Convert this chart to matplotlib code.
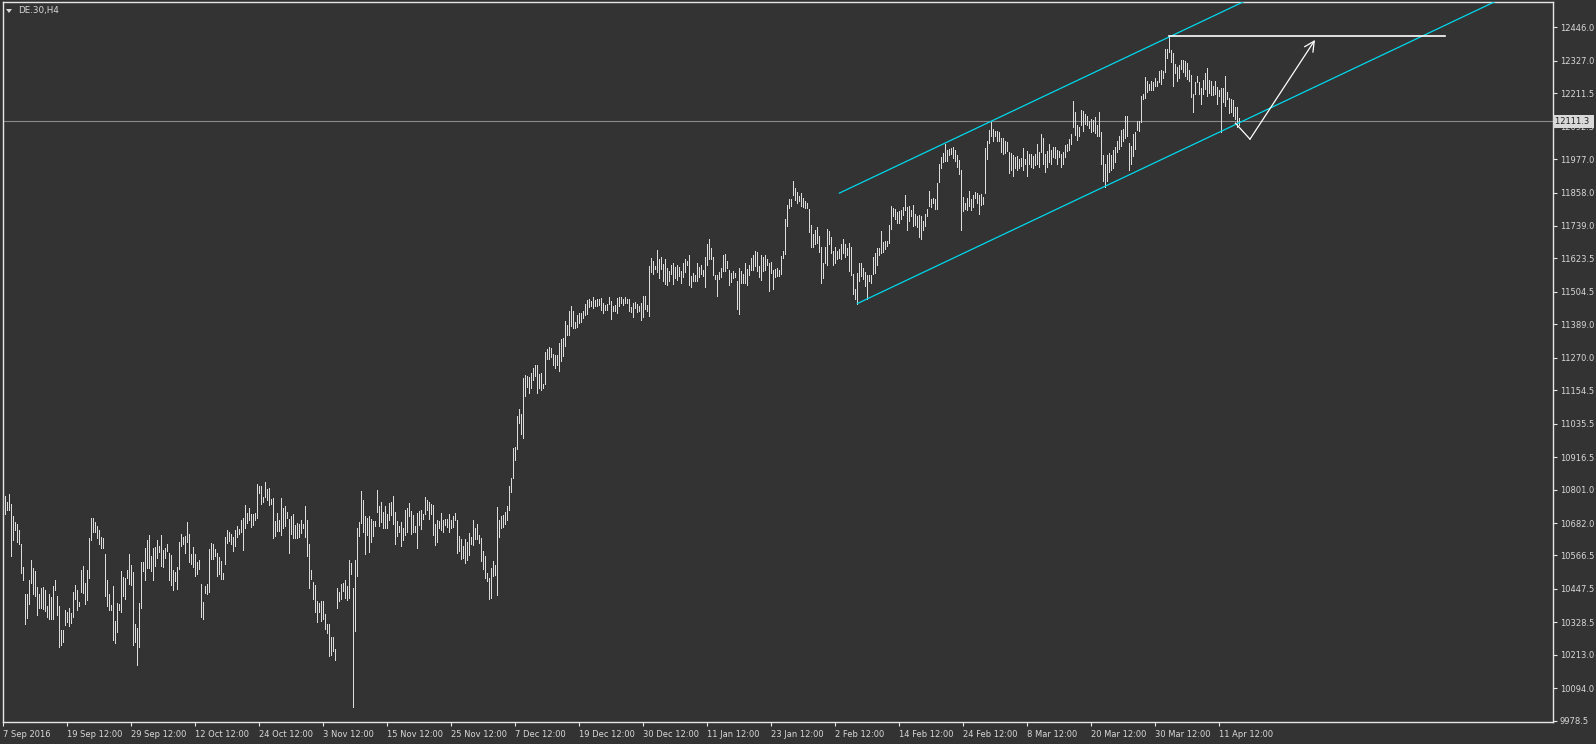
import numpy as np
import matplotlib
matplotlib.use("Agg")
import matplotlib.pyplot as plt
from matplotlib.transforms import blended_transform_factory

# DE.30 H4 bars, high / low per bar (bar 0 = 7 Sep 2016)
highs = [
    10775, 10779, 10756, 10784, 10748, 10706, 10687, 10677, 10656, 10608,
    10527, 10428, 10430, 10480, 10549, 10523, 10513, 10454, 10428, 10449,
    10456, 10442, 10387, 10428, 10418, 10459, 10480, 10423, 10387, 10302,
    10302, 10373, 10364, 10380, 10361, 10435, 10461, 10444, 10401, 10516,
    10530, 10470, 10516, 10630, 10701, 10701, 10684, 10672, 10658, 10632,
    10627, 10573, 10478, 10430, 10392, 10459, 10333, 10399, 10394, 10511,
    10489, 10485, 10516, 10573, 10532, 10508, 10323, 10309, 10397, 10544,
    10544, 10594, 10622, 10639, 10565, 10594, 10596, 10620, 10601, 10639,
    10587, 10594, 10608, 10575, 10568, 10516, 10508, 10525, 10615, 10644,
    10632, 10637, 10687, 10644, 10573, 10596, 10573, 10544, 10551, 10466,
    10401, 10459, 10466, 10589, 10611, 10606, 10589, 10577, 10561, 10546,
    10504, 10632, 10656, 10651, 10642, 10634, 10658, 10672, 10660, 10691,
    10701, 10746, 10718, 10734, 10715, 10715, 10718, 10822, 10815, 10813,
    10775, 10829, 10803, 10808, 10767, 10770, 10689, 10718, 10694, 10772,
    10734, 10744, 10722, 10696, 10708, 10715, 10675, 10682, 10677, 10691,
    10680, 10741, 10694, 10608, 10516, 10473, 10463, 10406, 10399, 10406,
    10404, 10359, 10323, 10323, 10278, 10276, 10235, 10451, 10437, 10466,
    10470, 10480, 10459, 10551, 10539, 10449, 10551, 10665, 10684, 10796,
    10763, 10708, 10701, 10706, 10696, 10689, 10689, 10801, 10744, 10756,
    10722, 10744, 10713, 10753, 10758, 10779, 10720, 10689, 10670, 10684,
    10665, 10729, 10734, 10753, 10725, 10710, 10672, 10717, 10725, 10729,
    10713, 10774, 10763, 10758, 10751, 10746, 10679, 10691, 10689, 10717,
    10694, 10698, 10696, 10715, 10694, 10706, 10717, 10694, 10637, 10625,
    10601, 10625, 10615, 10646, 10634, 10694, 10665, 10679, 10641, 10630,
    10582, 10565, 10504, 10485, 10523, 10546, 10532, 10739, 10694, 10708,
    10710, 10722, 10744, 10815, 10843, 10950, 10953, 11062, 11088, 11071,
    11197, 11209, 11205, 11200, 11216, 11235, 11243, 11243, 11212, 11216,
    11178, 11292, 11302, 11309, 11304, 11283, 11281, 11281, 11323, 11338,
    11342, 11402, 11385, 11437, 11456, 11435, 11399, 11423, 11428, 11430,
    11435, 11461, 11475, 11478, 11471, 11485, 11475, 11478, 11478, 11483,
    11466, 11459, 11463, 11487, 11471, 11454, 11459, 11483, 11485, 11485,
    11480, 11485, 11480, 11478, 11449, 11466, 11468, 11461, 11454, 11464,
    11490, 11490, 11459, 11597, 11625, 11613, 11597, 11654, 11620, 11628,
    11604, 11620, 11590, 11580, 11599, 11606, 11592, 11599, 11592, 11580,
    11609, 11620, 11616, 11635, 11561, 11573, 11563, 11606, 11592, 11599,
    11582, 11628, 11675, 11694, 11661, 11628, 11563, 11563, 11575, 11590,
    11635, 11639, 11613, 11582, 11573, 11580, 11571, 11542, 11590, 11580,
    11568, 11606, 11585, 11601, 11625, 11635, 11649, 11647, 11597, 11635,
    11630, 11637, 11623, 11606, 11611, 11582, 11587, 11590, 11582, 11632,
    11649, 11763, 11813, 11834, 11834, 11898, 11875, 11860, 11846, 11858,
    11837, 11827, 11820, 11799, 11744, 11711, 11723, 11737, 11704, 11663,
    11606, 11663, 11727, 11720, 11699, 11651, 11663, 11649, 11656, 11675,
    11692, 11675, 11661, 11680, 11663, 11568, 11514, 11571, 11606, 11606,
    11590, 11575, 11566, 11566, 11563, 11628, 11642, 11659, 11659, 11720,
    11682, 11685, 11685, 11744, 11811, 11803, 11799, 11787, 11792, 11796,
    11806, 11849, 11806, 11811, 11796, 11815, 11780, 11775, 11777, 11775,
    11756, 11782, 11799, 11863, 11834, 11839, 11834, 11891, 11958, 11986,
    11998, 12032, 12010, 12013, 12017, 12020, 12008, 11991, 11975, 11937,
    11841, 11822, 11837, 11865, 11834, 11849, 11860, 11856, 11851, 11853,
    11841, 12015, 12043, 12081, 12108, 12084, 12077, 12077, 12072, 12051,
    12053, 12041, 12039, 12001, 11998, 11991, 11986, 11989, 11979, 11982,
    12017, 11977, 12005, 11994, 11996, 11989, 11996, 12029, 12003, 12065,
    12053, 11996, 12005, 12029, 12010, 12020, 12020, 12008, 12005, 11996,
    12003, 12027, 12032, 12048, 12065, 12184, 12146, 12098, 12093, 12153,
    12148, 12138, 12131, 12112, 12119, 12115, 12127, 12100, 12143, 12074,
    11990, 11960, 11990, 12000, 11990, 12010, 12020, 12043, 12058, 12079,
    12084, 12129, 12129, 12036, 12022, 12067, 12072, 12112, 12112, 12200,
    12207, 12269, 12255, 12245, 12255, 12250, 12267, 12255, 12290, 12293,
    12290, 12369, 12369, 12414, 12364, 12355, 12317, 12305, 12312, 12331,
    12329, 12326, 12319, 12295, 12276, 12210, 12252, 12271, 12252, 12231,
    12257, 12283, 12300, 12257, 12255, 12236, 12255, 12233, 12224, 12229,
    12229, 12271, 12217, 12193, 12191, 12186, 12162, 12162, 12124,
]
lows = [
    10708, 10715, 10729, 10727, 10565, 10622, 10656, 10613, 10608, 10504,
    10478, 10321, 10344, 10394, 10470, 10428, 10423, 10354, 10378, 10378,
    10375, 10368, 10349, 10342, 10340, 10342, 10444, 10354, 10240, 10249,
    10259, 10318, 10330, 10314, 10326, 10349, 10413, 10373, 10385, 10435,
    10432, 10394, 10409, 10485, 10622, 10651, 10649, 10627, 10608, 10594,
    10594, 10423, 10385, 10371, 10371, 10264, 10254, 10295, 10373, 10364,
    10423, 10411, 10487, 10466, 10463, 10249, 10257, 10176, 10242, 10380,
    10513, 10480, 10523, 10523, 10511, 10478, 10530, 10556, 10580, 10530,
    10527, 10556, 10582, 10478, 10463, 10442, 10475, 10447, 10520, 10599,
    10608, 10577, 10615, 10542, 10537, 10527, 10494, 10499, 10520, 10349,
    10340, 10432, 10430, 10435, 10554, 10554, 10563, 10492, 10499, 10482,
    10482, 10535, 10611, 10618, 10606, 10582, 10599, 10632, 10644, 10649,
    10587, 10663, 10682, 10691, 10668, 10675, 10691, 10699, 10789, 10748,
    10758, 10775, 10765, 10746, 10748, 10627, 10637, 10653, 10653, 10641,
    10663, 10670, 10699, 10577, 10644, 10627, 10627, 10627, 10634, 10646,
    10663, 10634, 10565, 10451, 10482, 10413, 10364, 10328, 10366, 10333,
    10342, 10306, 10292, 10207, 10214, 10228, 10195, 10378, 10404, 10413,
    10440, 10416, 10409, 10416, 10501, 10028, 10299, 10492, 10637, 10682,
    10651, 10570, 10641, 10580, 10615, 10637, 10670, 10722, 10672, 10687,
    10663, 10663, 10663, 10694, 10710, 10680, 10608, 10637, 10651, 10601,
    10622, 10639, 10649, 10706, 10644, 10649, 10651, 10592, 10675, 10660,
    10696, 10713, 10729, 10698, 10715, 10641, 10603, 10613, 10663, 10658,
    10649, 10675, 10668, 10649, 10663, 10668, 10694, 10577, 10584, 10554,
    10556, 10539, 10549, 10568, 10608, 10603, 10625, 10625, 10611, 10546,
    10520, 10485, 10477, 10411, 10416, 10494, 10497, 10425, 10632, 10663,
    10668, 10679, 10691, 10727, 10791, 10843, 10908, 10946, 11038, 10998,
    10984, 11133, 11167, 11145, 11164, 11190, 11205, 11145, 11162, 11155,
    11162, 11176, 11264, 11264, 11273, 11243, 11235, 11245, 11224, 11259,
    11276, 11311, 11350, 11350, 11383, 11376, 11376, 11380, 11392, 11397,
    11411, 11423, 11426, 11452, 11456, 11447, 11454, 11456, 11459, 11440,
    11430, 11440, 11440, 11463, 11407, 11437, 11435, 11430, 11454, 11466,
    11459, 11464, 11466, 11435, 11433, 11416, 11447, 11433, 11435, 11404,
    11414, 11445, 11435, 11418, 11575, 11568, 11585, 11575, 11554, 11585,
    11542, 11532, 11528, 11544, 11568, 11532, 11554, 11547, 11561, 11537,
    11556, 11575, 11599, 11528, 11523, 11542, 11544, 11544, 11559, 11568,
    11561, 11523, 11599, 11623, 11620, 11566, 11549, 11490, 11549, 11556,
    11580, 11580, 11589, 11530, 11540, 11554, 11556, 11445, 11426, 11537,
    11537, 11535, 11530, 11566, 11582, 11582, 11597, 11580, 11556, 11547,
    11580, 11582, 11599, 11509, 11570, 11516, 11556, 11561, 11561, 11568,
    11625, 11639, 11739, 11803, 11810, 11848, 11832, 11822, 11827, 11810,
    11806, 11803, 11803, 11718, 11663, 11665, 11675, 11680, 11647, 11537,
    11554, 11609, 11601, 11675, 11644, 11601, 11606, 11620, 11625, 11623,
    11642, 11628, 11637, 11580, 11563, 11497, 11478, 11461, 11544, 11561,
    11552, 11525, 11478, 11544, 11535, 11568, 11573, 11599, 11635, 11642,
    11647, 11658, 11668, 11677, 11730, 11775, 11763, 11751, 11749, 11763,
    11777, 11796, 11723, 11758, 11775, 11739, 11744, 11737, 11701, 11692,
    11723, 11739, 11773, 11811, 11808, 11822, 11801, 11799, 11894, 11944,
    11967, 11972, 11970, 11991, 11994, 11982, 11972, 11948, 11925, 11723,
    11794, 11799, 11796, 11811, 11796, 11808, 11839, 11822, 11780, 11815,
    11818, 11856, 11979, 12036, 12058, 12043, 12058, 12041, 12041, 12001,
    11994, 11998, 12005, 11927, 11937, 11917, 11944, 11937, 11944, 11953,
    11939, 11958, 11917, 11958, 11950, 11945, 11955, 11960, 11950, 12001,
    11960, 11930, 11950, 11965, 11960, 11986, 11982, 11960, 11986, 11950,
    11960, 11986, 12005, 12008, 12029, 12093, 12062, 12046, 12058, 12100,
    12077, 12103, 12098, 12089, 12074, 12077, 12070, 12060, 12058, 11960,
    11900, 11876, 11900, 11930, 11940, 11945, 11965, 12003, 12012, 12024,
    12041, 12053, 12060, 11940, 11960, 11989, 12012, 12079, 12077, 12108,
    12191, 12195, 12217, 12222, 12222, 12224, 12236, 12238, 12250, 12245,
    12267, 12286, 12338, 12359, 12324, 12238, 12283, 12255, 12264, 12298,
    12286, 12274, 12262, 12255, 12198, 12143, 12210, 12252, 12210, 12174,
    12210, 12226, 12203, 12214, 12205, 12205, 12210, 12174, 12200, 12072,
    12179, 12167, 12191, 12141, 12146, 12131, 12119, 12093, 12100,
]

# time axis labels, one every 32 bars
date_labels = ["7 Sep 2016", "19 Sep 12:00", "29 Sep 12:00", "12 Oct 12:00",
               "24 Oct 12:00", "3 Nov 12:00", "15 Nov 12:00", "25 Nov 12:00",
               "7 Dec 12:00", "19 Dec 12:00", "30 Dec 12:00", "11 Jan 12:00",
               "23 Jan 12:00", "2 Feb 12:00", "14 Feb 12:00", "24 Feb 12:00",
               "8 Mar 12:00", "20 Mar 12:00", "30 Mar 12:00", "11 Apr 12:00"]
bars_per_label = 32

price_ticks = [12446.0, 12327.0, 12211.5, 12092.5, 11977.0, 11858.0, 11739.0,
               11623.5, 11504.5, 11389.0, 11270.0, 11154.5, 11035.5, 10916.5,
               10801.0, 10682.0, 10566.5, 10447.5, 10328.5, 10213.0, 10094.0,
               9978.5]
last_price = 12111.3

# drawn objects: (bar, price) anchors
channel_slope = 3.37          # points per bar
upper_start = (418, 11856)
lower_start = (427, 11463)
resist_line = ([583, 721], [12414, 12414])
arrow_pts = ([616, 623.3, 655.8], [12105, 12048, 12401])

bg = "#333333"
fg = "#d8d8d8"
plt.rcParams["font.family"] = ["DejaVu Sans"]

fig = plt.figure(figsize=(15.96, 7.44), dpi=100)
fig.patch.set_facecolor(bg)
ax = fig.add_axes([2.5 / 1596, 22 / 744, 1550.5 / 1596, 719.7 / 744])
ax.set_facecolor(bg)

x = np.arange(len(highs))
ax.vlines(x, lows, highs, colors="#dcdcdc", linewidth=0.5, antialiased=False, zorder=3)

ax.set_xlim(-0.42, 774.8)
ax.set_ylim(9973.9, 12535.0)

# current price line
ax.axhline(last_price, color="#8a8a8a", linewidth=0.8, zorder=2)

# trend channel
x_end = 780
for (x0, y0) in (upper_start, lower_start):
    ax.plot([x0, x_end], [y0, y0 + channel_slope * (x_end - x0)],
            color="#00d8ec", linewidth=0.9, zorder=4)

ax.plot(resist_line[0], resist_line[1], color="white", linewidth=1.2, zorder=4)

ax.plot(arrow_pts[0][:2], arrow_pts[1][:2], color="white", linewidth=0.9, zorder=4)
ax.annotate("", xy=(arrow_pts[0][2], arrow_pts[1][2]),
            xytext=(arrow_pts[0][1], arrow_pts[1][1]),
            arrowprops=dict(arrowstyle="->", color="white", lw=0.9,
                            mutation_scale=18, shrinkA=0, shrinkB=0), zorder=4)

# axes styling
for s in ax.spines.values():
    s.set_color("#e6e6e6")
    s.set_linewidth(1.0)

ax.yaxis.tick_right()
ax.set_yticks(price_ticks)
ax.set_yticklabels(["%.1f" % v for v in price_ticks])
ax.tick_params(axis="y", colors="#e6e6e6", labelcolor=fg, labelsize=6,
               length=3, width=0.8, pad=2, direction="out")

xt = np.arange(len(date_labels)) * bars_per_label
ax.set_xticks(xt)
ax.set_xticklabels(date_labels, ha="left")
ax.tick_params(axis="x", colors="#e6e6e6", labelcolor=fg, labelsize=6,
               length=3, width=0.8, pad=3, direction="out")

# price tag on the right axis
tr = blended_transform_factory(ax.transAxes, ax.transData)
ax.text(1.0015, last_price, "12111.3 ", transform=tr, ha="left", va="center",
        fontsize=6, color="#222222", clip_on=False, zorder=10,
        bbox=dict(boxstyle="square,pad=0.25", facecolor="#d9d9d9", edgecolor="none"))

# chart caption
fig.text(18 / 1596, 1 - 11 / 744, "DE.30,H4", color=fg, fontsize=6.3, va="center")
fig.patches.append(plt.Polygon([[6 / 1596, 1 - 9 / 744], [12 / 1596, 1 - 9 / 744],
                                [9 / 1596, 1 - 13 / 744]], closed=True,
                               transform=fig.transFigure, facecolor=fg, edgecolor="none"))

fig.savefig("out.png", dpi=100, facecolor=bg)
